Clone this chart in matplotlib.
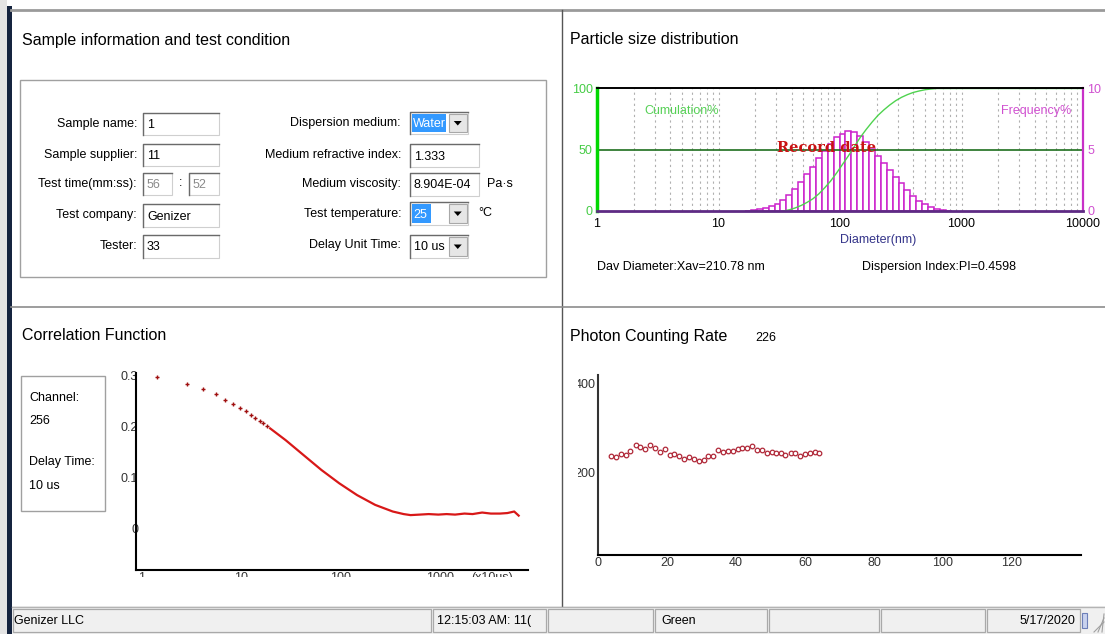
import numpy as np
import matplotlib.pyplot as plt
from matplotlib.patches import Rectangle, Polygon

plt.rcParams['font.family'] = ['Liberation Sans', 'DejaVu Sans']

W, H = 1105, 634

# Particle size distribution (frequency bars)
diameter_nm = [17.5, 19.6, 21.9, 24.5, 27.4, 30.6, 34.2, 38.3, 42.8, 47.9,
               53.5, 59.9, 67.0, 74.9, 83.8, 93.7, 104.8, 117.2, 131.1, 146.6,
               164.0, 183.4, 205.1, 229.4, 256.5, 286.9, 320.9, 358.9, 401.4, 448.9,
               502.1, 561.5, 628.0, 702.4, 785.5]
frequency_pct = [0.03, 0.08, 0.15, 0.25, 0.4, 0.6, 0.9, 1.3, 1.8, 2.4,
                 3.0, 3.6, 4.3, 4.9, 5.5, 6.0, 6.3, 6.5, 6.45, 6.1,
                 5.6, 5.1, 4.5, 3.95, 3.35, 2.8, 2.25, 1.7, 1.25, 0.85,
                 0.55, 0.32, 0.16, 0.07, 0.02]
# Cumulation curve
cum_diameter = [34.2, 38.3, 42.8, 47.9, 53.5, 59.9, 67.0, 74.9, 83.8, 93.7,
                104.8, 117.2, 131.1, 146.6, 164.0, 183.4, 205.1, 229.4, 256.5, 286.9,
                320.9, 358.9, 401.4, 448.9, 502.1, 561.5, 628.0, 10000]
cum_pct = [0, 1, 2.5, 4.5, 7, 10, 14, 19, 24.5, 31,
           38, 45, 52.5, 60, 66.5, 72.5, 78, 82.5, 86.5, 90,
           92.8, 95, 96.8, 98, 99, 99.6, 100, 100]
psd_xticks = [1, 10, 100, 1000, 10000]
psd_xticklabels = ['1', '10', '100', '1000', '10000']

# Correlation function
corr_sparse_x = [1.4, 2.8, 4.1, 5.5, 6.9, 8.3, 9.7, 11.0, 12.4, 13.8, 15.2, 16.6, 18.0]
corr_sparse_y = [0.297, 0.283, 0.272, 0.263, 0.252, 0.243, 0.236, 0.229, 0.222, 0.216,
                 0.211, 0.206, 0.201]
corr_x = [19.4, 27.8, 42, 63.5, 96, 145, 220, 331, 426, 500, 620, 760, 950, 1150,
          1400, 1740, 2100, 2620, 3200, 3960, 4700, 5500, 6100]
corr_y = [0.196, 0.173, 0.144, 0.115, 0.089, 0.066, 0.047, 0.034, 0.029, 0.027, 0.028,
          0.029, 0.028, 0.029, 0.028, 0.030, 0.029, 0.032, 0.030, 0.030, 0.031, 0.034, 0.026]
corr_yticks = [0, 0.1, 0.2, 0.3]
corr_yticklabels = ['0', '0.1', '0.2', '0.3']
corr_xticks = [1, 10, 100, 1000]

# Photon counting rate
photon_t = [3.8, 5.2, 6.6, 8.0, 9.4, 10.9, 12.3, 13.7, 15.2, 16.6,
            18.0, 19.4, 20.8, 22.1, 23.5, 24.9, 26.3, 27.7, 29.2, 30.6,
            32.0, 33.4, 34.8, 36.3, 37.7, 39.1, 40.5, 41.8, 43.2, 44.6,
            46.1, 47.5, 48.9, 50.3, 51.7, 53.1, 54.3, 55.8, 57.2, 58.6,
            60.0, 61.4, 62.8, 64.0]
photon_rate = [237, 234, 241, 240, 249, 262, 258, 253, 261, 255,
               246, 252, 239, 241, 237, 230, 236, 230, 225, 228,
               238, 237, 250, 247, 249, 249, 252, 255, 256, 259,
               251, 250, 244, 246, 245, 245, 240, 243, 243, 238,
               241, 243, 247, 244]
photon_xticks = [0, 20, 40, 60, 80, 100, 120]
photon_yticks = [200, 400]


def rect_px(x0, y0, x1, y1):
    return [x0 / W, 1 - y1 / H, (x1 - x0) / W, (y1 - y0) / H]


fig = plt.figure(figsize=(W / 100, H / 100), dpi=100)
fig.patch.set_facecolor('white')

# ---- window / form layer (pixel coordinates, origin top-left)
ui = fig.add_axes([0, 0, 1, 1], zorder=-1)
ui.set_xlim(0, W)
ui.set_ylim(H, 0)
ui.axis('off')

ui.add_patch(Rectangle((0, 0), 7, H, fc='#e4e4e4', ec='none'))
ui.add_patch(Rectangle((7, 6), 4.5, H - 6, fc='#15243f', ec='none'))
ui.plot([11, W], [10, 10], color='#9a9a9a', lw=2)
ui.plot([562, 562], [10, 606], color='#555555', lw=1)
ui.plot([11, W], [307, 307], color='#8c8c8c', lw=1.2)

TITLE = 11.5
SMALL = 9
ui.text(22, 40, 'Sample information and test condition', fontsize=TITLE, va='center')
ui.text(570, 40, 'Particle size distribution', fontsize=TITLE, va='center')
ui.text(22, 336, 'Correlation Function', fontsize=TITLE, va='center')
ui.text(570, 337, 'Photon Counting Rate', fontsize=TITLE, va='center')
ui.text(755, 338, '226', fontsize=SMALL, va='center')

# group box
ui.add_patch(Rectangle((20, 80), 526, 197, fc='none', ec='#a0a0a0', lw=1))


def edit_box(x0, y0, x1, y1, text='', color='black'):
    ui.add_patch(Rectangle((x0, y0), x1 - x0, y1 - y0, fc='white', ec='#cfcfcf', lw=0.8))
    ui.plot([x0, x0, x1], [y1, y0, y0], color='#6a6a6a', lw=1)
    if text:
        ui.text(x0 + 4, (y0 + y1) / 2 + 1, text, fontsize=SMALL, va='center', color=color)


def combo(x0, y0, x1, y1, text, sel_w=0):
    edit_box(x0, y0, x1, y1)
    if sel_w:
        ui.add_patch(Rectangle((x0 + 2, y0 + 2), sel_w, y1 - y0 - 4, fc='#3399ff', ec='none'))
        ui.text(x0 + 3, (y0 + y1) / 2 + 1, text, fontsize=SMALL, va='center', color='white')
    else:
        ui.text(x0 + 4, (y0 + y1) / 2 + 1, text, fontsize=SMALL, va='center')
    bx0, bx1 = x1 - 19, x1 - 1.5
    ui.add_patch(Rectangle((bx0, y0 + 2), bx1 - bx0, y1 - y0 - 4, fc='#e6e6e6', ec='#a8a8a8', lw=0.8))
    cx, cy = (bx0 + bx1) / 2, (y0 + y1) / 2
    ui.add_patch(Polygon([(cx - 4, cy - 2), (cx + 4, cy - 2), (cx, cy + 2.5)], closed=True,
                         fc='black', ec='none'))


left_labels = ['Sample name:', 'Sample supplier:', 'Test time(mm:ss):', 'Test company:', 'Tester:']
left_y = [124, 155, 184, 215, 246]
for lab, y in zip(left_labels, left_y):
    ui.text(137, y, lab, fontsize=SMALL, ha='right', va='center')
edit_box(143, 113, 219, 135, '1')
edit_box(143, 144, 219, 166, '11')
edit_box(143, 173, 172, 195, '56', color='#8a8a8a')
ui.text(181, 183, ':', fontsize=SMALL, ha='center', va='center')
edit_box(189, 173, 219, 195, '52', color='#8a8a8a')
edit_box(143, 204, 219, 227, 'Genizer')
edit_box(143, 235, 219, 258, '33')

right_labels = ['Dispersion medium:', 'Medium refractive index:', 'Medium viscosity:',
                'Test temperature:', 'Delay Unit Time:']
right_y = [123, 155, 184, 214, 245]
for lab, y in zip(right_labels, right_y):
    ui.text(401, y, lab, fontsize=SMALL, ha='right', va='center')
combo(410, 112, 468, 134, 'Water', sel_w=34)
edit_box(410, 144, 479, 167, '1.333')
edit_box(410, 173, 479, 196, '8.904E-04')
ui.text(487, 184, 'Pa·s', fontsize=SMALL, va='center')
combo(410, 202, 468, 225, '25', sel_w=19)
ui.text(478, 213, '°C', fontsize=SMALL, va='center')
combo(410, 235, 468, 258, '10 us')

# PSD summary texts
ui.text(597, 267, 'Dav Diameter:Xav=210.78 nm', fontsize=SMALL, va='center')
ui.text(862, 267, 'Dispersion Index:PI=0.4598', fontsize=SMALL, va='center')
ui.text(878, 240, 'Diameter(nm)', fontsize=SMALL, ha='center', va='center', color='#35358a')

# correlation info box
ui.add_patch(Rectangle((21, 376), 84, 135, fc='none', ec='#a0a0a0', lw=1))
for txt, y in zip(['Channel:', '256', 'Delay Time:', '10 us'], [398, 421, 462, 486]):
    ui.text(29, y, txt, fontsize=SMALL, va='center')
ui.text(492, 571.5, '(x10us)', fontsize=SMALL, ha='center', va='top', color='#333333')

# status bar
ui.add_patch(Rectangle((11.5, 606), W - 11.5, H - 606, fc='#f0f0f0', ec='none'))
ui.plot([11.5, W], [606.5, 606.5], color='#b4b4b4', lw=1)
sections = [(13, 431), (433, 546), (548, 653), (655, 767), (769, 879), (881, 985), (987, 1080)]
for x0, x1 in sections:
    ui.add_patch(Rectangle((x0, 609), x1 - x0, 23, fc='none', ec='#a9a9a9', lw=0.9))
ui.text(14, 621, 'Genizer LLC', fontsize=SMALL, va='center')
ui.text(437, 621, '12:15:03 AM: 11(', fontsize=SMALL, va='center')
ui.text(661, 621, 'Green', fontsize=SMALL, va='center')
ui.text(1075, 621, '5/17/2020', fontsize=SMALL, ha='right', va='center')
ui.add_patch(Rectangle((1082, 613), 5, 15, fc='#c9d2ee', ec='#6d7fb8', lw=0.8))
for k in range(3):
    ui.plot([1094 + 4 * k, 1104], [632, 622 - 4 * k], color='#a0a0a0', lw=0.8)

# ---- particle size distribution
ax_f = fig.add_axes(rect_px(597, 88.5, 1083, 211))
ax_c = ax_f.twinx()
ax_f.set_xscale('log')
ax_f.set_xlim(1, 10000)
ax_f.set_ylim(0, 10)
ax_c.set_ylim(0, 100)

for dec in [1, 10, 100, 1000]:
    for m in range(1, 10):
        if dec * m > 1:
            ax_f.axvline(dec * m, color='#b0b0b0', lw=0.8, ls=(0, (2, 3)), zorder=0)

d = np.array(diameter_nm)
edges = np.sqrt(d[:-1] * d[1:])
left_edges = np.concatenate([[d[0] ** 2 / edges[0]], edges])
right_edges = np.concatenate([edges, [d[-1] ** 2 / edges[-1]]])
ax_f.bar(left_edges, frequency_pct, width=right_edges - left_edges, align='edge',
         color='white', edgecolor='#cc22cc', lw=1.1, zorder=2)

ax_c.axhline(50, color='#1e6e1e', lw=1.2)
ax_c.plot(cum_diameter, cum_pct, color='#4fd34f', lw=1.0, clip_on=False)
ax_c.text(78, 51.5, 'Record date', fontsize=10.5, fontweight='bold', color='#c81212',
          ha='center', va='center', family=['DejaVu Serif'])
ax_c.text(2.45, 82, 'Cumulation%', fontsize=SMALL, color='#55d055', va='center')
ax_c.text(8000, 82, 'Frequency%', fontsize=SMALL, color='#d050d0', va='center', ha='right')

for s in ax_f.spines.values():
    s.set_visible(False)
ax_c.spines['left'].set_color('#00d800')
ax_c.spines['left'].set_linewidth(2.5)
ax_c.spines['right'].set_color('#c830c8')
ax_c.spines['right'].set_linewidth(1.6)
ax_c.spines['top'].set_color('black')
ax_c.spines['top'].set_linewidth(1.4)
ax_c.spines['bottom'].set_color('#5e2a84')
ax_c.spines['bottom'].set_linewidth(2)

ax_f.set_xticks(psd_xticks)
ax_f.set_xticklabels(psd_xticklabels)
ax_f.xaxis.set_minor_locator(plt.NullLocator())
ax_f.yaxis.tick_right()
ax_f.set_yticks([0, 5, 10])
ax_f.set_yticklabels(['0', '5', '10'], color='#d050d0')
ax_c.yaxis.tick_left()
ax_c.set_yticks([0, 50, 100])
ax_c.set_yticklabels(['0', '50', '100'], color='#45cc45')
ax_f.tick_params(axis='x', which='both', length=0, pad=5, labelsize=SMALL)
ax_f.tick_params(axis='y', length=0, pad=3, labelsize=SMALL)
ax_c.tick_params(axis='y', length=0, pad=3, labelsize=SMALL)

# ---- correlation function
ax_g = fig.add_axes(rect_px(136, 373, 528, 570))
ax_g.set_xscale('log')
ax_g.set_xlim(0.87, 7570)
ax_g.set_ylim(-0.080, 0.304)
ax_g.plot(corr_sparse_x, corr_sparse_y, '+', color='#a01010', ms=3, mew=1)
ax_g.plot(corr_x, corr_y, color='#d81818', lw=1.6)
ax_g.set_yticks(corr_yticks)
ax_g.set_yticklabels(corr_yticklabels)
ax_g.set_xticks(corr_xticks)
ax_g.set_xticklabels(['1', '10', '100', '1000'])
ax_g.xaxis.set_minor_locator(plt.NullLocator())
ax_g.tick_params(axis='y', length=0, pad=-1.5, labelsize=SMALL, labelcolor='#333333')
ax_g.tick_params(axis='x', which='both', length=0, pad=1.5, labelsize=SMALL, labelcolor='#333333')
ax_g.spines['top'].set_visible(False)
ax_g.spines['right'].set_visible(False)
ax_g.spines['left'].set_linewidth(1.5)
ax_g.spines['bottom'].set_linewidth(1.5)
ax_g.patch.set_visible(False)

# ---- photon counting rate
ax_p = fig.add_axes(rect_px(598, 375, 1081, 554.5))
ax_p.set_xlim(0, 140)
ax_p.set_ylim(16, 419)
ax_p.plot(photon_t, photon_rate, 'o', ms=3.3, mfc='white', mec='#b02838', mew=0.9)
ax_p.set_xticks(photon_xticks)
ax_p.set_yticks(photon_yticks)
ax_p.tick_params(length=0, labelsize=SMALL, labelcolor='#333333')
ax_p.tick_params(axis='x', pad=2)
ax_p.tick_params(axis='y', pad=2)
ax_p.spines['top'].set_visible(False)
ax_p.spines['right'].set_visible(False)
ax_p.spines['left'].set_linewidth(1.5)
ax_p.spines['bottom'].set_linewidth(1.5)
ax_p.spines['left'].set_color('#333333')
ax_p.patch.set_visible(False)

# ---- panels clip their contents
cover = fig.add_axes([0, 0, 1, 1], zorder=5)
cover.set_xlim(0, W)
cover.set_ylim(H, 0)
cover.axis('off')
cover.add_patch(Rectangle((120, 577), 441, 28.5, fc='white', ec='none'))
cover.add_patch(Rectangle((563.5, 372), 14, 110, fc='white', ec='none'))

fig.savefig('out.png', dpi=100)
